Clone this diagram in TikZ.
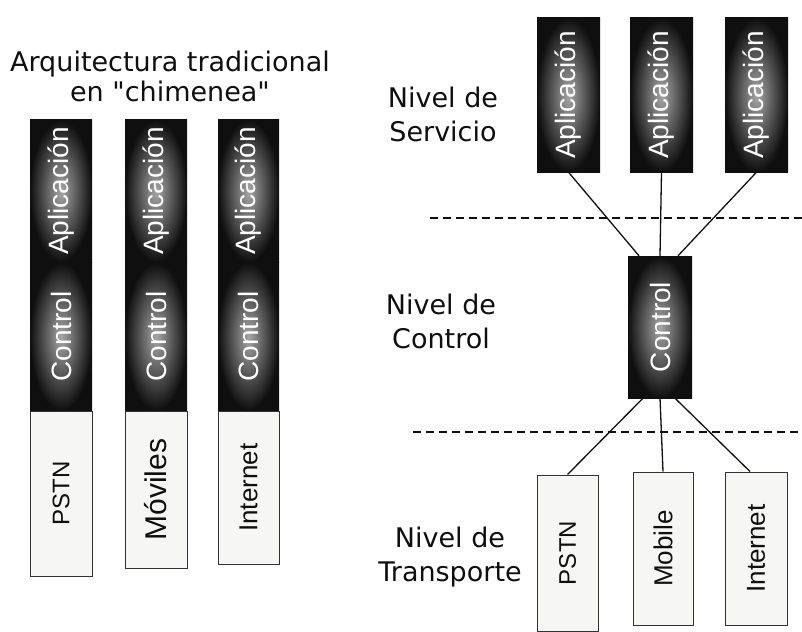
\documentclass[tikz,border=0pt]{standalone}
\usepackage{fontspec}
\setmainfont{DejaVu Sans}
\newfontfamily\headfont{DejaVu Sans}
\newfontfamily\boxfont{Liberation Sans}
\usepackage{tikz}
\usetikzlibrary{positioning, calc}
\definecolor{cInk}{RGB}{15,15,15}
\definecolor{cPaper}{RGB}{246,246,244}
\tikzset{
	darkseg/.style ={rectangle, inner sep=0pt, draw=none, shading=radial, inner color=black!35, outer color=cInk, text=white, font=\boxfont\fontsize{28}{30}\selectfont},
	netbox/.style  ={rectangle, inner sep=0pt, draw=black!80, line width=1pt, fill=cPaper, text=cInk, font=\boxfont\fontsize{26}{28}\selectfont},
	level/.style   ={align=center, text=cInk, font=\headfont\fontsize{27}{34}\selectfont},
	heading/.style ={align=center, text=cInk, font=\headfont\fontsize{27}{30}\selectfont},
	link/.style    ={line width=1.3pt, cInk},
	sepline/.style ={line width=1.3pt, cInk, dash pattern=on 8pt off 5pt},
}
\begin{document}
\begin{tikzpicture}[x=1pt, y=-1pt]
	\useasboundingbox (0,0) rectangle (802,631);
	\node[heading] (ttl) at (170,76) {Arquitectura tradicional\\en "chimenea"};
	\node[darkseg, minimum width=62pt, minimum height=142pt] (ap1) at (61,191) {\rotatebox{90}{Aplicación}};
	\node[darkseg, minimum width=62pt, minimum height=148pt, below=0pt of ap1] (ct1) {\rotatebox{90}{Control}};
	\node[netbox, minimum width=62pt, minimum height=165pt, below=0pt of ct1, font=\boxfont\fontsize{24}{26}\selectfont] (tr1) {\rotatebox{90}{PSTN}};
	\node[darkseg, minimum width=62pt, minimum height=142pt] (ap2) at (156,191) {\rotatebox{90}{Aplicación}};
	\node[darkseg, minimum width=62pt, minimum height=148pt, below=0pt of ap2] (ct2) {\rotatebox{90}{Control}};
	\node[netbox, minimum width=62pt, minimum height=157pt, below=0pt of ct2, font=\boxfont\fontsize{30}{32}\selectfont] (tr2) {\rotatebox{90}{Móviles}};
	\node[darkseg, minimum width=61pt, minimum height=142pt] (ap3) at (248.5,191) {\rotatebox{90}{Aplicación}};
	\node[darkseg, minimum width=61pt, minimum height=148pt, below=0pt of ap3] (ct3) {\rotatebox{90}{Control}};
	\node[netbox, minimum width=61pt, minimum height=153pt, below=0pt of ct3] (tr3) {\rotatebox{90}{Internet}};
	\node[level] (lvs) at (443,114) {Nivel de\\Servicio};
	\node[level] (lvc) at (441,321) {Nivel de\\Control};
	\node[level] (lvt) at (450,557) {Nivel de\\Transporte};
	\node[darkseg, minimum width=63pt, minimum height=154pt] (sa1) at (568.5,95) {\rotatebox{90}{Aplicación}};
	\node[darkseg, minimum width=63pt, minimum height=154pt] (sa2) at (661.5,95) {\rotatebox{90}{Aplicación}};
	\node[darkseg, minimum width=63pt, minimum height=154pt] (sa3) at (756.5,95) {\rotatebox{90}{Aplicación}};
	\node[darkseg, minimum width=64pt, minimum height=142pt] (ctl) at (660,327) {\rotatebox{90}{Control}};
	\node[netbox, minimum width=61pt, minimum height=156pt, font=\boxfont\fontsize{24}{26}\selectfont] (pstn) at (567.5,553) {\rotatebox{90}{PSTN}};
	\node[netbox, minimum width=60pt, minimum height=153pt] (mob) at (663,548.5) {\rotatebox{90}{Mobile}};
	\node[netbox, minimum width=62pt, minimum height=153pt] (inet) at (756,548.5) {\rotatebox{90}{Internet}};
	\draw[sepline] (430,218) -- (802,218);
	\draw[sepline] (413,432) -- (802,432);
	\draw[link] (sa1.south) -- ([xshift=-21pt]ctl.north);
	\draw[link] (sa2.south) -- (ctl.north);
	\draw[link] (sa3.south) -- ([xshift=18pt]ctl.north);
	\draw[link] ([xshift=-17pt]ctl.south) -- (pstn.north);
	\draw[link] (ctl.south) -- (mob.north);
	\draw[link] ([xshift=15pt]ctl.south) -- ([xshift=-6pt]inet.north);
\end{tikzpicture}
\end{document}
